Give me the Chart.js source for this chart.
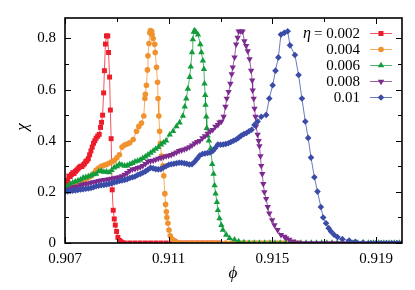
<!DOCTYPE html>
<html>
<head>
<meta charset="utf-8">
<script src="https://cdn.jsdelivr.net/npm/chart.js@4.4.0/dist/chart.umd.min.js"></script>
<style>
  html, body { margin: 0; padding: 0; background: #fff; }
</style>
</head>
<body>
<canvas id="chart" width="415" height="290"></canvas>
<script>
// tick values / labels
const xTicks = [0.907, 0.911, 0.915, 0.919];
const xTickLabels = ['0.907', '0.911', '0.915', '0.919'];
const xMinorTicks = [0.909, 0.913, 0.917];
const yTicks = [0, 0.2, 0.4, 0.6, 0.8];
const yTickLabels = ['0', '0.2', '0.4', '0.6', '0.8'];
const yMinorTicks = [0.1, 0.3, 0.5, 0.7];

const etaLabels = ['0.002', '0.004', '0.006', '0.008', '0.01'];

// eta = 0.002
const phi002 = [0.9070,0.90705,0.9071,0.90715,0.9072,0.90725,0.9073,0.90735,0.9074,0.90745,0.9075,0.90755,0.9076,0.90765,0.9077,0.90775,0.9078,0.90785,0.9079,0.90795,0.9080,0.90805,0.9081,0.90815,0.9082,0.90826,0.90832,0.90837,0.90841,0.90845,0.90849,0.90852,0.90856,0.9086,0.90865,0.90868,0.90872,0.90875,0.90878,0.90882,0.90886,0.9089,0.90894,0.90899,0.90904,0.9091,0.90916,0.9092,
  0.9093,0.9095,0.9097,0.9099,0.9101,0.9103,0.9105,0.9107,0.9109,0.9111,0.9113,0.9115,0.9117,0.9119,0.9121,0.9123,0.9125,0.9127,0.9129];
const chi002 = [0.230,0.228,0.245,0.262,0.260,0.268,0.275,0.272,0.280,0.285,0.290,0.296,0.300,0.299,0.305,0.310,0.318,0.322,0.330,0.345,0.360,0.375,0.390,0.400,0.410,0.418,0.425,0.452,0.472,0.500,0.587,0.674,0.778,0.810,0.810,0.745,0.649,0.520,0.408,0.208,0.128,0.094,0.070,0.045,0.022,0.010,0.005,0.002,
  0,0,0,0,0,0,0,0,0,0,0,0,0,0,0,0,0,0,0];

// eta = 0.004
const phi004 = [0.9070,0.9071,0.9072,0.9073,0.9074,0.9075,0.9076,0.9077,0.9078,0.9079,0.9080,0.9081,0.9082,0.9083,0.9084,0.9085,0.9086,0.9087,0.9088,0.9089,0.9090,0.9091,0.9092,0.9093,0.9094,0.9095,
  0.90963,0.90976,0.90985,0.90995,0.91004,0.91008,0.9101,0.91014,0.91018,0.9102,0.91024,0.91027,0.9103,0.91034,0.91036,0.9104,0.91046,0.91048,0.91053,0.91057,0.91059,0.91062,0.91065,0.91068,0.91072,0.91078,0.91081,0.91085,0.91088,0.91091,0.91093,0.91097,0.91101,0.91106,0.91113,0.91123,0.9113,
  0.9114,0.9116,0.9118,0.9120,0.9122,0.9124,0.9126,0.9128,0.9130,0.9132,0.9134,0.9136,0.9138,0.9140,0.9142,0.9144,0.9146,0.9148,0.9150,0.9152,0.9154,0.9156,0.9158,0.9160];
const chi004 = [0.210,0.218,0.222,0.226,0.230,0.233,0.236,0.243,0.250,0.256,0.262,0.272,0.285,0.293,0.300,0.304,0.307,0.312,0.318,0.322,0.333,0.345,0.375,0.383,0.387,0.392,
  0.405,0.437,0.456,0.469,0.497,0.565,0.582,0.617,0.677,0.732,0.780,0.822,0.831,0.828,0.815,0.800,0.777,0.745,0.687,0.629,0.565,0.497,0.437,0.390,0.340,0.302,0.263,0.193,0.151,0.122,0.100,0.077,0.051,0.028,0.015,0.009,0.004,
  0,0,0,0,0,0,0,0,0,0,0,0,0,0,0,0,0,0,0,0,0,0,0,0];

// eta = 0.006
const phi006 = [0.9070,0.9071,0.9072,0.9073,0.9074,0.9075,0.9076,0.9077,0.9078,0.9079,0.9080,0.9081,0.9082,0.9083,0.9084,0.9085,0.9086,0.9087,0.9088,0.9089,0.9090,0.9091,0.9092,0.9093,0.9094,0.9095,0.9096,0.9097,0.9098,0.9099,0.9100,0.9101,0.9102,0.9103,0.9104,0.9105,0.9106,0.9107,0.9108,0.9109,
  0.91104,0.91117,0.9113,0.91142,0.91155,0.91162,0.91168,0.91174,0.91181,0.91185,0.9119,0.91193,0.91197,0.912,0.91205,0.91213,0.91222,0.91226,0.91232,0.91236,0.91238,0.91241,0.91242,0.91245,0.91247,0.9125,0.91255,0.91262,0.91268,0.91273,0.91277,0.91281,0.91286,0.9129,0.91296,0.91303,0.91309,0.91322,0.91335,0.91354,0.9137,0.9139,
  0.9141,0.9143,0.9145,0.9147,0.9149,0.9151,0.9153,0.9155,0.9157,0.9159,0.9161,0.9163,0.9165,0.9167,0.9169,0.9171,0.9173,0.9175,0.9177,0.9179,0.9181,0.9183,0.9185,0.9187,0.9189,0.9191,0.9193,0.9195,0.9197,0.9199];
const chi006 = [0.212,0.222,0.231,0.236,0.240,0.244,0.248,0.255,0.257,0.260,0.263,0.268,0.270,0.280,0.282,0.278,0.279,0.276,0.285,0.295,0.300,0.308,0.305,0.302,0.303,0.308,0.312,0.318,0.321,0.325,0.332,0.338,0.345,0.352,0.360,0.368,0.375,0.385,0.392,0.400,
  0.424,0.437,0.456,0.471,0.497,0.533,0.565,0.603,0.649,0.690,0.745,0.796,0.826,0.831,0.825,0.815,0.777,0.745,0.713,0.680,0.623,0.578,0.540,0.494,0.449,0.420,0.400,0.370,0.308,0.270,0.225,0.193,0.160,0.128,0.096,0.070,0.051,0.032,0.019,0.013,0.006,0.002,
  0,0,0,0,0,0,0,0,0,0,0,0,0,0,0,0,0,0,0,0,0,0,0,0,0,0,0,0,0,0];

// eta = 0.008
const phi008 = [0.9070,0.9071,0.9072,0.9073,0.9074,0.9075,0.9076,0.9077,0.9078,0.9079,0.9080,0.9081,0.9082,0.9083,0.9084,0.9085,0.9086,0.9087,0.9088,0.9089,0.9090,0.9091,0.9092,0.9093,0.9094,0.9095,0.9096,0.9097,0.9098,0.9099,
  0.9100,0.9101,0.9102,0.9103,0.9104,0.9105,0.9106,0.9107,0.9108,0.9109,0.9110,0.9111,0.9112,0.9113,0.9114,0.9115,0.9116,0.9117,0.9118,0.9119,0.9120,0.9121,0.9122,0.9123,0.9124,0.9125,0.9126,0.9127,0.9128,0.9129,
  0.91296,0.91303,0.91312,0.91319,0.91324,0.91331,0.91338,0.91343,0.91347,0.91354,0.9136,0.91366,0.9137,0.91378,0.91385,0.91392,0.91399,0.91405,0.91412,0.91418,0.91422,0.91424,0.91428,0.91431,0.91435,0.91437,0.91443,0.91447,0.9145,0.91454,0.91457,0.91461,0.91465,0.91469,0.91476,0.91482,0.91488,0.91499,0.91508,0.9152,0.91533,0.91546,0.91553,0.91565,0.9158,0.916,
  0.9162,0.9164,0.9166,0.9168,0.9170,0.9172,0.9174,0.9176,0.9178,0.9180,0.9182,0.9184,0.9186,0.9188,0.9190,0.9192,0.9194,0.9196,0.9198,0.9200];
const chi008 = [0.205,0.208,0.212,0.218,0.220,0.222,0.226,0.229,0.231,0.233,0.236,0.238,0.240,0.243,0.245,0.247,0.248,0.250,0.252,0.254,0.256,0.258,0.262,0.268,0.274,0.282,0.288,0.290,0.294,0.297,
  0.302,0.310,0.318,0.321,0.322,0.326,0.330,0.333,0.336,0.340,0.342,0.345,0.350,0.355,0.360,0.363,0.366,0.370,0.375,0.382,0.390,0.396,0.400,0.410,0.418,0.428,0.437,0.443,0.455,0.462,
  0.472,0.475,0.494,0.533,0.565,0.591,0.623,0.661,0.687,0.726,0.777,0.803,0.828,0.828,0.828,0.790,0.771,0.751,0.719,0.674,0.636,0.597,0.565,0.526,0.494,0.456,0.424,0.400,0.379,0.340,0.302,0.270,0.231,0.199,0.173,0.141,0.116,0.090,0.070,0.051,0.032,0.025,0.019,0.013,0.006,0.002,
  0,0,0,0,0,0,0,0,0,0,0,0,0,0,0,0,0,0,0,0];

// eta = 0.01
const phi010 = [0.9070,0.9071,0.9072,0.9073,0.9074,0.9075,0.9076,0.9077,0.9078,0.9079,0.9080,0.9081,0.9082,0.9083,0.9084,0.9085,0.9086,0.9087,0.9088,0.9089,0.9090,0.9091,0.9092,0.9093,0.9094,0.9095,0.9096,0.9097,0.9098,0.9099,
  0.9100,0.9101,0.9102,0.9103,0.9104,0.9105,0.9106,0.9107,0.9108,0.9109,0.9110,0.9111,0.9112,0.9113,0.9114,0.9115,0.9116,0.9117,0.9118,0.9119,0.9120,0.9121,0.9122,0.9123,0.9124,0.9125,0.9126,0.9127,0.9128,0.9129,
  0.9130,0.9131,0.9132,0.9133,0.9134,0.9135,0.9136,0.9137,0.9138,0.9139,0.9140,0.9141,0.9142,
  0.91431,0.91443,0.91457,0.91476,0.91488,0.91501,0.91512,0.91523,0.91533,0.91546,0.91559,0.91568,0.91587,0.91601,0.91614,0.91627,0.91638,0.91649,0.91662,0.91674,0.91687,0.91696,0.91707,0.91717,0.91726,0.91738,0.91751,0.9177,0.91796,0.9182,0.9185,
  0.9188,0.9190,0.9192,0.9194,0.9196,0.9198,0.9200];
const chi010 = [0.203,0.202,0.204,0.205,0.206,0.207,0.209,0.210,0.212,0.213,0.215,0.218,0.222,0.224,0.226,0.227,0.229,0.231,0.234,0.237,0.240,0.243,0.245,0.247,0.250,0.254,0.257,0.260,0.266,0.270,
  0.275,0.280,0.287,0.294,0.292,0.289,0.288,0.289,0.295,0.300,0.306,0.308,0.310,0.312,0.314,0.314,0.312,0.310,0.307,0.308,0.318,0.330,0.342,0.348,0.350,0.352,0.354,0.360,0.372,0.385,
  0.384,0.385,0.387,0.390,0.395,0.400,0.405,0.412,0.420,0.426,0.430,0.437,0.443,
  0.462,0.475,0.494,0.501,0.565,0.617,0.674,0.726,0.815,0.822,0.828,0.773,0.735,0.657,0.565,0.475,0.411,0.334,0.257,0.201,0.141,0.100,0.077,0.058,0.045,0.032,0.023,0.015,0.010,0.005,0.002,
  0,0,0,0,0,0,0];

const series = [
  { phi: phi002, chi: chi002, color: '#ec1c2a', line: 'rgba(236,28,42,0.75)', style: 'rect', rot: 0, r: 3.5 },
  { phi: phi004, chi: chi004, color: '#f0922e', line: 'rgba(240,146,46,0.75)', style: 'circle', rot: 0, r: 2.8 },
  { phi: phi006, chi: chi006, color: '#129c3c', line: 'rgba(18,156,60,0.75)', style: 'triangle', rot: 0, r: 3.7 },
  { phi: phi008, chi: chi008, color: '#7c2a8e', line: 'rgba(124,42,142,0.75)', style: 'triangle', rot: 180, r: 3.7 },
  { phi: phi010, chi: chi010, color: '#3a4ca8', line: 'rgba(58,76,168,0.75)', style: 'rectRot', rot: 0, r: 3.3 }
];

function toPoints(phi, chi) {
  const n = Math.min(phi.length, chi.length);
  const out = [];
  for (let i = 0; i < n; i++) out.push({ x: phi[i], y: chi[i] });
  return out;
}

const serif = "'Liberation Serif', 'DejaVu Serif', serif";

const framePlugin = {
  id: 'frame',
  afterDatasetsDraw(chart) {
    const ctx = chart.ctx;
    const a = chart.chartArea;
    const xs = chart.scales.x, ys = chart.scales.y;
    ctx.save();
    ctx.strokeStyle = '#000';
    ctx.lineWidth = 1;
    const tick = (x1, y1, x2, y2) => { ctx.beginPath(); ctx.moveTo(x1, y1); ctx.lineTo(x2, y2); ctx.stroke(); };
    xTicks.concat(xMinorTicks).forEach((v, i) => {
      const len = i < xTicks.length ? 6 : 4;
      const px = Math.round(xs.getPixelForValue(v)) + 0.5;
      tick(px, a.bottom, px, a.bottom - len);
      tick(px, a.top, px, a.top + len);
    });
    yTicks.concat(yMinorTicks).forEach((v, i) => {
      const len = i < yTicks.length ? 6 : 4;
      const py = Math.round(ys.getPixelForValue(v)) + 0.5;
      tick(a.left, py, a.left + len, py);
      tick(a.right, py, a.right - len, py);
    });
    ctx.lineWidth = 1.6;
    ctx.strokeRect(a.left, a.top, a.right - a.left, a.bottom - a.top);
    ctx.restore();
  },
  afterDraw(chart) {
    const ctx = chart.ctx;
    ctx.save();
    ctx.fillStyle = '#000';
    // axis titles
    ctx.font = 'italic 17px ' + serif;
    ctx.textAlign = 'center';
    ctx.textBaseline = 'middle';
    ctx.fillText('ϕ', 233, 274);
    ctx.translate(23, 127);
    ctx.rotate(-Math.PI / 2);
    ctx.fillText('χ', 0, 0);
    ctx.setTransform(1, 0, 0, 1, 0, 0);

    // legend
    const textRight = 360;
    series.forEach((s, i) => {
      const y = 33 + i * 16;
      ctx.font = '15px ' + serif;
      ctx.textAlign = 'right';
      ctx.fillStyle = '#000';
      const txt = i === 0 ? '= ' + etaLabels[i] : etaLabels[i];
      ctx.fillText(txt, textRight, y + 1);
      if (i === 0) {
        const w = ctx.measureText(txt).width;
        ctx.font = 'italic 16px ' + serif;
        ctx.fillText('η', textRight - w - 3, y + 1);
      }
      ctx.strokeStyle = s.line;
      ctx.lineWidth = 1;
      ctx.beginPath();
      ctx.moveTo(370, y + 0.5);
      ctx.lineTo(392, y + 0.5);
      ctx.stroke();
      ctx.fillStyle = s.color;
      Chart.helpers.drawPoint(ctx, { pointStyle: s.style, rotation: s.rot, radius: s.r, borderWidth: 0 }, 381, y + 0.5);
    });
    ctx.restore();
  }
};

new Chart(document.getElementById('chart'), {
  type: 'line',
  data: {
    datasets: series.map((s, i) => ({
      label: etaLabels[i],
      data: toPoints(s.phi, s.chi),
      borderColor: s.line,
      borderWidth: 1,
      backgroundColor: s.color,
      pointBackgroundColor: s.color,
      pointBorderWidth: 0,
      pointStyle: s.style,
      pointRotation: s.rot,
      pointRadius: s.r,
      tension: 0,
      order: series.length - i
    }))
  },
  options: {
    responsive: false,
    animation: false,
    devicePixelRatio: 1,
    layout: { padding: { left: 0, top: 15, right: 13, bottom: 0 } },
    plugins: { legend: { display: false }, tooltip: { enabled: false } },
    scales: {
      x: {
        type: 'linear',
        min: 0.907,
        max: 0.92,
        grid: { display: false, drawTicks: false },
        border: { display: false },
        afterBuildTicks: (s) => { s.ticks = xTicks.map(v => ({ value: v })); },
        afterFit: (s) => { s.height = 47; },
        ticks: {
          padding: 7,
          autoSkip: false,
          maxRotation: 0,
          color: '#000',
          font: { family: serif, size: 15 },
          callback: (v, i) => xTickLabels[i]
        }
      },
      y: {
        type: 'linear',
        min: 0,
        max: 0.88,
        grid: { display: false, drawTicks: false },
        border: { display: false },
        afterBuildTicks: (s) => { s.ticks = yTicks.map(v => ({ value: v })); },
        afterFit: (s) => { s.width = 65; },
        ticks: {
          padding: 9,
          autoSkip: false,
          color: '#000',
          font: { family: serif, size: 15 },
          callback: (v, i) => yTickLabels[i]
        }
      }
    }
  },
  plugins: [framePlugin]
});
</script>
</body>
</html>
